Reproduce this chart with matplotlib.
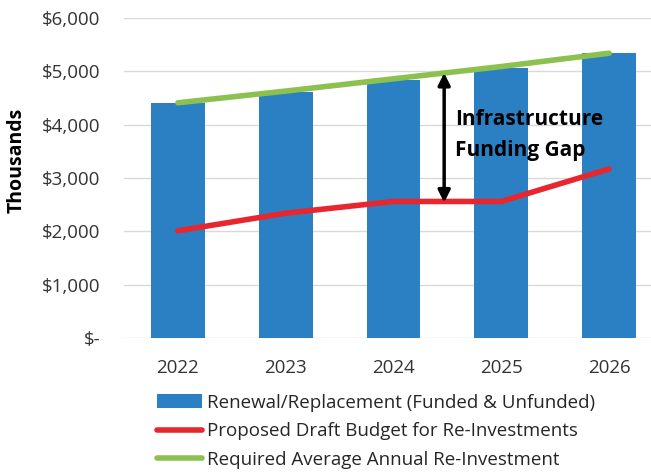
import matplotlib.pyplot as plt
from matplotlib.ticker import FuncFormatter

plt.rcParams['font.family'] = ['Open Sans', 'DejaVu Sans']

years = ["2022", "2023", "2024", "2025", "2026"]
renewal = [4400, 4620, 4840, 5070, 5350]          # bars
draft_budget = [2010, 2340, 2560, 2560, 3170]     # red line
required_avg = [4410, 4630, 4860, 5090, 5340]     # green line
gap_top, gap_bottom = 4970, 2540

blue = "#2A80C2"
red = "#E8262E"
green = "#8DC14F"

fig = plt.figure(figsize=(6.51, 4.72), dpi=100)
ax = fig.add_axes([124 / 651, 134 / 472, 539 / 651, 320 / 472])

x = list(range(len(years)))
bars = ax.bar(x, renewal, width=0.5, color=blue, zorder=2,
              label="Renewal/Replacement (Funded & Unfunded)")
(red_line,) = ax.plot(x, draft_budget, color=red, lw=4, solid_capstyle="round", zorder=3,
                      label="Proposed Draft Budget for Re-Investments")
(green_line,) = ax.plot(x, required_avg, color=green, lw=4, solid_capstyle="round", zorder=3,
                        label="Required Average Annual Re-Investment")

# gap arrow and its label
ax.annotate("", xy=(2.47, gap_top), xytext=(2.47, gap_bottom),
            arrowprops=dict(arrowstyle="<|-|>", color="black", lw=2.5,
                            mutation_scale=18, shrinkA=0, shrinkB=0), zorder=4)
ax.text(2.57, 3810, "Infrastructure\nFunding Gap", fontsize=15, fontweight="bold",
        va="center", ha="left", linespacing=1.6, zorder=5)

ax.set_xlim(-0.5, 4.5)
ax.set_ylim(0, 6000)
ax.set_yticks(range(0, 6001, 1000))
ax.yaxis.set_major_formatter(FuncFormatter(lambda v, p: "$-" if v == 0 else f"${v:,.0f}"))
ax.set_xticks(x)
ax.set_xticklabels(years)
ax.tick_params(length=0, labelsize=13.5, colors="#333333")
ax.tick_params(axis="y", pad=17)
ax.tick_params(axis="x", pad=15)

ax.grid(axis="y", color="#D9D9D9", lw=1, zorder=0)
for s in ax.spines.values():
    s.set_visible(False)

ax.set_ylabel("Thousands", fontsize=14, fontweight="bold")
ax.yaxis.set_label_coords((27 - 124) / 539, 0.556)

fig.legend(handles=[bars, red_line, green_line],
           loc="upper left", bbox_to_anchor=(149.5 / 651, 1 - 386 / 472),
           frameon=False, fontsize=13.5, handlelength=2.4, handletextpad=0.27,
           labelspacing=0.57, borderaxespad=0, labelcolor="#262626")

fig.savefig("out.png", dpi=100)
